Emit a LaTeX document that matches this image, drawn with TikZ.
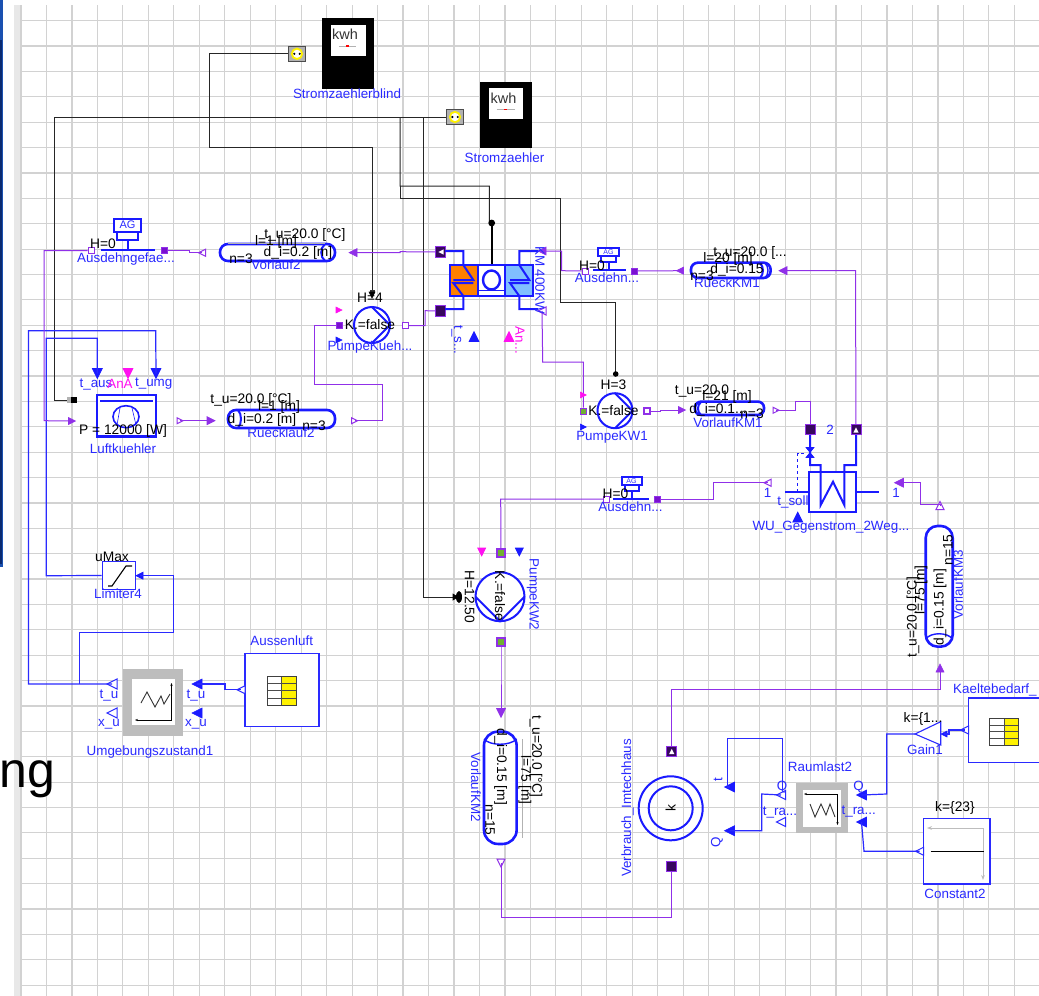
\documentclass[tikz,border=0pt]{standalone}
\usepackage{fontspec}
\setmainfont{Liberation Sans}
\usetikzlibrary{arrows.meta}
\definecolor{gridc}{HTML}{D2D2D2}
\definecolor{bandc}{HTML}{E8E8E8}
\definecolor{edgec}{HTML}{0A2A70}
\definecolor{edgeb}{HTML}{1A50B0}
\definecolor{bluec}{HTML}{1A1AFF}
\definecolor{wireb}{HTML}{2A2AFF}
\definecolor{purp}{HTML}{9030E8}
\definecolor{purpd}{HTML}{7A10D0}
\definecolor{magc}{HTML}{FF10F0}
\definecolor{orangec}{HTML}{FF8000}
\definecolor{lbluec}{HTML}{80BFFF}
\definecolor{grayb}{HTML}{BDBDBD}
\definecolor{greenc}{HTML}{70B030}
\tikzset{
  x=1pt,y=-1pt,
  gridline/.style={draw=gridc,line width=1.2pt},
  wk/.style={draw=black!85,line width=1pt},
  wp/.style={draw=purp,line width=1pt},
  wb/.style={draw=wireb,line width=1.2pt},
  thick blue/.style={draw=bluec,line width=2pt},
  lb/.style={text=wireb,inner sep=0pt,font=\fontsize{13.4}{14}\selectfont},
  bk/.style={text=black,inner sep=0pt,font=\fontsize{13.8}{14}\selectfont},
  mg/.style={text=magc,inner sep=0pt,font=\fontsize{13.4}{14}\selectfont},
  pipe/.style={draw=bluec,line width=2.6pt,fill=white,inner sep=0pt,rounded corners=8pt},
  bx/.style={draw=wireb,line width=1.3pt,fill=white,inner sep=0pt},
  sq/.style={draw=purp,line width=1pt,fill=purpd,inner sep=0pt,minimum size=9pt},
  sqg/.style={draw=purp,line width=1.6pt,fill=greenc,inner sep=0pt,minimum size=8pt},
  sqw/.style={draw=purp,line width=1pt,fill=white,inner sep=0pt,minimum size=6pt},
  sqd/.style={draw=purp,line width=1pt,fill=purpd!45!black,inner sep=0pt,minimum width=10pt,minimum height=10.5pt},
  tp/.style={fill=purp,draw=purp,line width=.6pt},
  th/.style={fill=white,draw=purp,line width=1pt},
  tb/.style={fill=bluec,draw=bluec,line width=.6pt},
  tbh/.style={fill=white,draw=wireb,line width=1pt},
  tm/.style={fill=magc,draw=magc,line width=.6pt},
  tk/.style={fill=black,draw=black,line width=.6pt},
  tw/.style={fill=white,draw=none},
}
\newcommand\trR[4][4]{\coordinate (#2) at (#3);\path[#4,shift={(#3)}] (-#1,-#1) -- (#1,0) -- (-#1,#1) -- cycle;}
\newcommand\trL[4][4]{\coordinate (#2) at (#3);\path[#4,shift={(#3)}] (#1,-#1) -- (-#1,0) -- (#1,#1) -- cycle;}
\newcommand\trU[4][4]{\coordinate (#2) at (#3);\path[#4,shift={(#3)}] (-#1,#1) -- (0,-#1) -- (#1,#1) -- cycle;}
\newcommand\trD[4][4]{\coordinate (#2) at (#3);\path[#4,shift={(#3)}] (-#1,-#1) -- (0,#1) -- (#1,-#1) -- cycle;}
% table icon: left, top, right, bottom, split
\newcommand\tableicon[5]{%
  \fill[white] (#1,#2) rectangle (#5,#4);
  \fill[yellow] (#5,#2) rectangle (#3,#4);
  \foreach \k in {1,2,3}{\draw[black!70,line width=.8pt] (#1,{#2+(#4-#2)*\k/4}) -- (#3,{#2+(#4-#2)*\k/4});}
  \draw[black!70,line width=.9pt] (#5,#2) -- (#5,#4);
  \draw[black!75,line width=1pt] (#1,#2) rectangle (#3,#4);}
% socket: centre
\newcommand\socket[2]{%
  \node[draw=black!70,line width=1pt,fill=black!30,minimum width=17.5pt,minimum height=15.5pt,inner sep=0pt] (#1) at (#2) {};
  \path[fill=white,draw=yellow,line width=1.8pt,shift={(#2)}] (0,0) circle (5.2);
  \fill[black,shift={(#2)}] (-2.7,0) circle (1.2) (2.7,0) circle (1.2);}
% meter: left top right bottom
\newcommand\meter[6]{%
  \fill[black] (#1,#2) rectangle (#3,#4);
  \fill[white] (#5) rectangle (#6);}
\begin{document}
\begin{tikzpicture}
\useasboundingbox (0,0) rectangle (1039,996);
\fill[white] (0,0) rectangle (1039,996);
% window edge
\fill[edgeb] (0,0) rectangle (3,567);
\fill[edgec] (0,40) rectangle (2,564);
\fill[bandc] (14,5) rectangle (20.5,996);
\foreach \i in {0,...,40}{\draw[gridline] ({21+25.47*\i},5) -- ({21+25.47*\i},996);}
\foreach \j in {0,...,38}{\draw[gridline] (21,{20.7+25.38*\j}) -- (1039,{20.7+25.38*\j});}
\node[anchor=base east,inner sep=0pt,text=black,font=\fontsize{50}{50}\selectfont] (ngtext) at (55.5,787) {ng};

% ---- named port nodes and coordinates
\socket{sockA}{297,53.8}
\socket{sockB}{455,117}
\coordinate (pumpFourTop) at (372,291);
\coordinate (coolerBlack) at (72,400);
\coordinate (kmTop) at (491.7,224);
\coordinate (kwOneTop) at (615.7,374);
\coordinate (kwTwoLeft) at (458,597);

% ---- black wires
\draw[wk] (sockA.west) -- (209.5,53.8) -- (209.5,147.5) -- (372,147.5) -- (pumpFourTop);
\draw[wk] (sockB.west) -- (54,117) -- (54,400) -- (coolerBlack);
\draw[wk] (400,117) -- (400,186) -- (489.3,186) -- (489.3,222) -- (kmTop);
\draw[wk] (400,186) -- (400,198) -- (560.7,198) -- (560.7,302.7) -- (615.7,302.7) -- (kwOneTop);
\draw[wk] (423,117) -- (423,597) -- (kwTwoLeft);
\fill[black!80] (pumpFourTop) ++(-2.5,-1) rectangle ++(5,3);
\path[tk,shift={(372,295)}] (-3,-3) -- (0,3) -- (3,-3) -- cycle;
\fill[black] (kmTop) ++(0,-1) circle (3.4);
\draw[black,line width=2pt] (491.7,224) -- (491.7,264);
\fill[black] (kwOneTop) circle (2.8);
\fill[black] (459,597) ellipse [x radius=3,y radius=6];
\path[tk,shift={(455,597)}] (-2,-3) -- (3,0) -- (-2,3) -- cycle;
\fill[black] (74,400) ++(-3,-3) rectangle ++(6,6);
\fill[black!30] (67,397) rectangle (71,403);

% ---- blue wires
\node[bx,minimum width=33.4pt,minimum height=27.6pt] (limiter) at (119,575.5) {};
\node[bx,minimum width=74pt,minimum height=73.4pt] (aussen) at (282,690) {};
\node[bx,minimum width=66.7pt,minimum height=65.7pt] (constant) at (956.7,851.2) {};
\path[bx] (968.3,698) -- (1045,698) -- (1045,762.3) -- (968.3,762.3) -- cycle;
\coordinate (kaelte) at (968.3,730);
\trL{tAussen}{241,689.7}{tbh}
\trL{tKaelte}{964.5,730}{tbh}
\trL{tConst}{919.5,851.3}{tbh}
\trL[5]{uTu}{112,684}{tbh}
\trL[5]{uXu}{112,713}{tbh}
\trL[5]{uTuR}{197,684}{tb}
\trL[5]{uXuR}{197,713}{tb}
\trD[5]{lTAus}{97.3,373.5}{tb}
\trD[5]{lTUmg}{156,373.5}{tb}
\trD[5]{lAn}{128,373.5}{tm}
\trL[3.5]{limR}{139.5,575.7}{tb}
\trL[5]{rQ}{861.5,795}{tb}
\trL[5]{rT}{861.5,822}{tb}
\trL[4.5]{rQL}{781,795}{tbh}
\trL[4.5]{rTL}{781,822}{tbh}
\trL[5]{vT}{729.5,787}{tb}
\trL[5]{vQ}{729.5,830.7}{tb}
\trL[3]{gIn}{944,734}{tb}

\draw[wb] (lTUmg) -- (155.7,330.7) -- (28.4,330.7) -- (28.4,684) -- (uTu);
\draw[wb] (lTAus) -- (97.3,338.3) -- (46.3,338.3) -- (46.3,575.7) -- (limiter.west);
\draw[wb] (limR) -- (173.7,575.7) -- (173.7,632.3) -- (79.3,632.3) -- (79.3,684);
\draw[wb] (uTuR) -- (225,684) -- (225,689.7) -- (tAussen);
\draw[wb] (vT) -- (727.7,787) -- (727.7,738.3) -- (782.3,738.3) -- (782.3,790);
\draw[wb] (vQ) -- (761.7,830.7) -- (761.7,794) -- (rQL);
\draw[wb] (rQ) -- (886.7,794) -- (886.7,734) -- (915,734);
\draw[wb] (gIn) -- (949,734) -- (949,730) -- (tKaelte);
\draw[wb] (rT) -- (864,851.3) -- (tConst);

% ---- purple wires: ports first
\node[sq,minimum size=6pt] (agR) at (164.5,250.5) {};
\node[sqw] (agL) at (91,250.5) {};
\trL[3.5]{pVL}{202,252.8}{th}
\trL[4]{pVR}{353,252.6}{tp}
\node[sqd] (kmA) at (440.5,252) {};
\node[sqd] (kmB) at (440.5,311) {};
\trL{kmC}{542,251}{tp}
\trL{kmD}{542,311}{th}
\node[sqw] (ausA) at (585,271) {};
\node[sq,minimum size=6pt] (ausB) at (634.7,271) {};
\trL[3.5]{pRL}{680,270.7}{tp}
\trL[4]{pRR}{783,270.7}{tp}
\node[sqg,minimum size=6pt] (kwOneL) at (583.3,411.5) {};
\node[sqg,minimum size=6pt,fill=white] (kwOneR) at (647,411) {};
\trR[3.5]{pKWIn}{682,410}{tp}
\trR[3]{pKWOut}{776,410.3}{th}
\node[sqd] (wuA) at (810,429.5) {};
\node[sqd] (wuB) at (856,429.5) {};
\node[sq,minimum size=6pt] (pfL) at (339,325) {};
\node[sqw] (pfR) at (405.5,325.5) {};
\trR[3]{cooR}{180,420.7}{th}
\trR[4]{rueIn}{211,420.7}{tp}
\trR[3]{rueOut}{354.5,420.7}{th}
\trR[3.5]{cooIn}{72,421}{tp}
\node[sqw] (aus2L) at (606.7,499) {};
\node[sq,minimum size=6pt] (aus2R) at (657.5,499) {};
\trL[3.5]{wuL}{767.5,482.7}{th}
\trL[4.5]{wuR}{899,482.7}{tp}
\trU[4]{k3Top}{940,505.5}{th}
\trU[4]{k3Bot}{940,668}{tp}
\node[sqg] (k2Top) at (501,553) {};
\node[sqg] (k2Bot) at (501,641.7) {};
\trD[4.5]{k2In}{501,713}{tp}
\trD[4]{k2Out}{501,863}{th}
\node[sqd,minimum height=10pt,minimum width=10.5pt] (vTop) at (671.7,751) {};
\node[sqd,minimum height=10pt,minimum width=10.5pt] (vBot) at (671.7,866.5) {};
\trU[2.6]{iWu}{856,430}{tw}
\trU[2.6]{iTop}{671.7,751.5}{tw}
\trL[2.6]{iKm}{441,252}{tw}

\draw[wp] (agL) -- (44,250.5) -- (44,420.7) -- (cooIn);
\draw[wp] (agR) -- (189,250.5) -- (189,252.8) -- (pVL);
\draw[wp] (pVR) -- (400,252.6) -- (400,251.7) -- (kmA);
\draw[wp] (kmC) -- (561.7,251) -- (561.7,270.7) -- (ausA);
\draw[wp] (ausB) -- (pRL);
\draw[wp] (pRR) -- (855.5,270.7) -- (wuB);
\draw[wp] (kmD) -- (542.7,362) -- (583.3,362) -- (kwOneL);
\draw[wp] (kwOneR) -- (660,411) -- (660,410) -- (pKWIn);
\draw[wp] (pKWOut) -- (795,410.3) -- (795,401.5) -- (810,401.5) -- (wuA);
\draw[wp] (pfL) -- (314,325) -- (314,384) -- (382.5,384) -- (382.5,420.7) -- (rueOut);
\draw[wp] (pfR) -- (425,325.7) -- (425,310.7) -- (kmB);
\draw[wp] (cooR) -- (rueIn);
\draw[wp] (aus2L) -- (500.7,499) -- (k2Top);
\draw[wp] (aus2R) -- (713,499) -- (713,482.7) -- (wuL);
\draw[wp] (wuR) -- (920,482.7) -- (920,504) -- (940,504) -- (k3Top);
\draw[wp] (k2Bot) -- (501,657) -- (k2In);
\draw[wp] (k2Out) -- (501,917) -- (671.7,917) -- (vBot);
\draw[wp] (vTop) -- (671.7,689) -- (940,689) -- (k3Bot);

% ---- meters
\meter{322.3}{17.7}{374}{89.3}{331,25}{365.7,55.7}
\draw[black!30,line width=.8pt] (339,46) -- (356,46);
\fill[red] (346,45.3) rectangle (349,46.7);
\node[text=black!80,inner sep=0pt,font=\fontsize{14.5}{15}\selectfont] (kwhA) at (345,34.5) {kwh};
\node[lb] (lStromB) at (347,94) {Stromzaehlerblind};
\meter{480}{81.7}{532}{148.3}{488.7,88.3}{523.3,119.3}
\draw[black!30,line width=.8pt] (496.5,109.5) -- (514.5,109.5);
\fill[red] (504,108.8) rectangle (507,110.2);
\node[text=black!80,inner sep=0pt,font=\fontsize{14.5}{15}\selectfont] (kwhB) at (503.5,98) {kwh};
\node[lb] (lStrom) at (504.5,158) {Stromzaehler};

% ---- expansion vessels
\draw[thick blue,fill=white] (114,219) rectangle (141,231.5);
\draw[thick blue,fill=white] (117,231.5) rectangle (138,239.5);
\draw[thick blue] (127.5,239.5) -- (127.5,250) (100.5,250) -- (154.5,250);
\node[lb,font=\fontsize{11}{12}\selectfont] (agIcon) at (127.5,225) {AG};
\node[bk] (hAg) at (103,244) {H=0};
\node[lb] (lAg) at (126,259.5) {Ausdehngefae...};

\draw[thick blue,fill=white] (598,248) rectangle (619,255.5);
\draw[thick blue,fill=white] (601,255.5) rectangle (616,262);
\draw[thick blue] (609,262) -- (609,270) (593,270) -- (626,270);
\node[lb,font=\fontsize{7}{8}\selectfont] (ausIconA) at (608.5,251.7) {AG};
\node[bk] (hAus) at (592,265.5) {H=0};
\node[lb] (lAus) at (607,277.5) {Ausdehn...};

\draw[thick blue,fill=white] (622,477) rectangle (641.5,484.5);
\draw[thick blue,fill=white] (625,484.5) rectangle (638.5,491);
\draw[thick blue] (632,491) -- (632,499) (613,499) -- (649,499);
\node[lb,font=\fontsize{7}{8}\selectfont] (ausIconB) at (631.5,480.7) {AG};
\node[bk] (hAusB) at (615.5,494) {H=0};
\node[lb] (lAusB) at (630.5,506.5) {Ausdehn...};

% ---- pipes
\node[pipe,minimum width=115pt,minimum height=17pt] (vorlaufZwei) at (277.5,252.5) {};
\draw[thick blue] (325,244) .. controls (320,248) and (320,257) .. (325,261);
\draw[gray!60,line width=.7pt] (228,243.5) -- (325,243.5);
\node[bk] (t1) at (305,235) {t\_u=20.0 [°C]};
\node[bk] (t2) at (276,242) {l=1 [m]};
\node[bk] (t3) at (298,253) {d\_i=0.2 [m]};
\node[bk] (t4) at (241,258.5) {n=3};
\node[lb] (t5) at (276,265) {Vorlauf2};

\node[pipe,minimum width=107pt,minimum height=18pt] (ruecklaufZwei) at (281.5,419) {};
\draw[thick blue] (238,410) .. controls (242,414) and (242,424) .. (238,428);
\node[bk] (t6) at (251,400) {t\_u=20.0 [°C]};
\node[bk] (t7) at (279,406.5) {l=1 [m]};
\node[bk] (t8) at (262,419.5) {d\_i=0.2 [m]};
\node[bk] (t9) at (314,426) {n=3};
\node[lb] (t10) at (281,432.5) {Ruecklauf2};

\node[pipe,minimum width=79.7pt,minimum height=15.3pt,rounded corners=7pt] (rueckKM) at (730.8,270.3) {};
\draw[thick blue] (760,263) .. controls (764,267) and (764,274) .. (760,278);
\draw[thick blue,line width=1.4pt] (765,263) .. controls (769,267) and (769,274) .. (765,278);
\node[bk] (t11) at (750,253) {t\_u=20.0 [...};
\node[bk] (t12) at (728,259) {l=20 [m]};
\node[bk] (t13) at (737,270) {d\_i=0.15};
\node[bk] (t14) at (702,276) {n=3};
\node[lb] (t15) at (727,283) {RueckKM1};

\node[pipe,minimum width=69pt,minimum height=13.3pt,rounded corners=6pt] (vorKM) at (729.5,408.3) {};
\draw[thick blue] (701,402) .. controls (697,405) and (697,412) .. (701,415);
\node[bk] (t16) at (702,391) {t\_u=20.0};
\node[bk] (t17) at (727,396.5) {l=21 [m]};
\node[bk] (t18) at (718,410) {d\_i=0.1...};
\node[bk] (t19) at (752,413.5) {n=3};
\node[lb] (t20) at (728,422.5) {VorlaufKM1};

\node[pipe,minimum width=32.7pt,minimum height=112.3pt,rounded corners=14pt] (vorKMZwei) at (500.3,787.8) {};
\draw[thick blue,draw=bluec,line width=1.4pt] (484,739) .. controls (490,746) and (510,746) .. (516.7,739);
\draw[gray!60,line width=.7pt] (522,739) -- (522,838);
\node[bk,rotate=-90] (t21) at (536,756.5) {t\_u=20.0 [°C]};
\node[bk,rotate=-90] (t22) at (525,780) {l=75 [m]};
\node[bk,rotate=-90] (t23) at (500.7,767) {d\_i=0.15 [m]};
\node[bk,rotate=-90] (t24) at (490,820) {n=15};
\node[lb,rotate=-90] (t25) at (476,787) {VorlaufKM2};

\node[pipe,minimum width=27pt,minimum height=120.7pt,rounded corners=12pt] (vorKMDrei) at (939.2,586.3) {};
\draw[thick blue,line width=1.4pt] (925.7,639) .. controls (931,632) and (947,632) .. (952.7,639);
\node[bk,rotate=90] (t26) at (913,617) {t\_u=20.0 [°C]};
\node[bk,rotate=90] (t27) at (921,590) {l=75 [m]};
\node[bk,rotate=90] (t28) at (940,607) {d\_i=0.15 [m]};
\node[bk,rotate=90] (t29) at (948,550) {n=15};
\node[lb,rotate=90] (t30) at (958,585) {VorlaufKM3};

% ---- cooler
\node[draw=bluec,line width=2.4pt,fill=white,minimum width=59.3pt,minimum height=41.7pt,inner sep=0pt] (luft) at (126.4,415.8) {};
\draw[thick blue] (100,400.7) -- (153,400.7);
\draw[thick blue,line width=1.6pt] (126,416.7) ellipse [x radius=13,y radius=11];
\draw[bluec,line width=.6pt] (120,408) -- (117,425) (132,408) -- (136,425);
\node[lb] (l1) at (96,384) {t\_aus};
\node[mg] (l2) at (120,384) {AnA};
\node[lb] (l3) at (153.7,384) {t\_umg};
\node[bk] (l4) at (123,431) {P = 12000 [W]};
\node[lb] (l5) at (123,449) {Luftkuehler};

% ---- pumps
\draw[thick blue,fill=white] (372,325) circle (18);
\draw[thick blue] (372,307) -- (390,325) -- (372,343);
\trR[3]{pfTop}{339,310}{tm}
\trR[3]{pfBot}{339,340}{tb}
\node[bk] (h4) at (370,298) {H=4};
\node[bk] (kf) at (370,324.5) {K.=false};
\node[lb] (lPf) at (370,347.5) {PumpeKueh...};

\draw[thick blue,fill=white] (615,410.7) circle (17.5);
\draw[thick blue] (615,393.2) -- (632.5,410.7) -- (615,428.2);
\trR[3]{kwTop}{583.3,395}{tm}
\trR[3]{kwBot}{583.3,427}{tb}
\node[bk] (h3) at (613.5,385) {H=3};
\node[bk] (kf2) at (613.5,411) {K.=false};
\node[lb] (lKw) at (612,437.5) {PumpeKW1};

\draw[thick blue,fill=white] (500,596.7) circle (24.5);
\draw[thick blue] (475.5,596.7) -- (500,621.2) -- (524.5,596.7);
\trD[4]{k2m}{481.7,552}{tm}
\trD[4]{k2b}{519.3,552}{tb}
\node[bk,rotate=-90] (kf3) at (500,596) {K.=false};
\node[bk,rotate=-90] (h12) at (469.7,597) {H=12.50};
\node[lb,rotate=-90] (lK2) at (533,594.5) {PumpeKW2};

% ---- chiller
\fill[orangec] (450,265) rectangle (478,296);
\fill[white] (478,265) rectangle (505,296);
\fill[lbluec] (505,265) rectangle (532.7,296);
\draw[thick blue] (445,251) -- (463.3,251) -- (463.3,265) -- (473.3,280) -- (453.3,280);
\draw[thick blue] (473.3,283) -- (453.3,283) -- (463.3,296) -- (463.3,309) -- (445,309);
\draw[thick blue] (538,251) -- (519.3,251) -- (519.3,265) -- (529.3,280) -- (510,280);
\draw[thick blue] (529.3,283) -- (510,283) -- (519.3,296) -- (519.3,309) -- (538,309);
\draw[draw=bluec,line width=2pt] (450,265) rectangle (532.7,296);
\draw[thick blue] (478,265) -- (478,296) (505,265) -- (505,296);
\draw[bluec,line width=1pt] (478,290) -- (505,290);
\draw[thick blue,line width=2.4pt] (491.5,280) ellipse [x radius=8.5,y radius=9.5];
\node[lb,rotate=-90] (lKM) at (540,280) {KM 400KW};
\node[lb,rotate=-90] (lTs) at (457,340) {t\_s...};
\node[mg,rotate=-90] (lAnB) at (520,340) {An...};
\trU[5]{kmB1}{474,336.5}{tb}
\trU[5]{kmM1}{509,336.5}{tm}

% ---- heat exchanger
\draw[thick blue] (785,491.7) -- (809,491.7) (856,491.7) -- (879.3,491.7);
\draw[thick blue,fill=white] (809.3,471.7) rectangle (856,511.7);
\draw[thick blue] (810,435) -- (810,465) -- (820.7,465) -- (820.7,505) -- (833,481.7) -- (844.3,505) -- (844.3,465) -- (856,465) -- (856,435);
\draw[bluec,line width=1pt,dashed] (797.7,491.7) -- (797.7,453) -- (806,453);
\path[tb,shift={(810,452.5)}] (-4,-5) -- (4,-5) -- (-4,5) -- (4,5) -- cycle;
\trU[5]{wuSoll}{797.7,517}{tb}
\node[lb] (n1) at (767.5,492.5) {1};
\node[lb] (n2) at (896,492.5) {1};
\node[lb] (n3) at (830,430) {2};
\node[lb] (lSoll) at (793,502) {t\_soll};
\node[lb] (lWu) at (831,527) {WU\_Gegenstrom\_2Weg...};

% ---- limiter
\draw[black,line width=1.1pt] (108,586) -- (112,586) -- (126,566) -- (132,566);
\node[bk] (uMax) at (112,557) {uMax};
\node[lb] (lLim) at (118,594) {Limiter4};

% ---- environment block
\node[draw=none,fill=grayb,minimum width=60pt,minimum height=66.7pt,inner sep=0pt] (umg) at (153.3,702.7) {};
\fill[white] (132,679) rectangle (175,725);
\draw[black,line width=.9pt,-{Stealth[length=3pt]}] (171.5,720) -- (171.5,683);
\draw[black,line width=.9pt,-{Stealth[length=3pt]}] (171.5,720) -- (135,720);
\draw[black!80,line width=.9pt] (141,703) -- (147,692) -- (155,707) -- (161,696) -- (164,704) -- (170,694);
\node[lb] (l6) at (109,695) {t\_u};
\node[lb] (l7) at (109,724) {x\_u};
\node[lb] (l8) at (196,695) {t\_u};
\node[lb] (l9) at (196,724) {x\_u};
\node[lb] (l10) at (150,752) {Umgebungszustand1};
\tableicon{267.7}{676}{296}{705.7}{281.7}
\node[lb] (l11) at (281.7,641) {Aussenluft};

% ---- consumer
\draw[thick blue] (670.7,808.3) circle (32);
\draw[thick blue] (670.7,808.3) circle (22);
\node[bk,rotate=90] (k) at (670.7,808.3) {k};
\node[lb,rotate=90] (lV) at (627.7,808) {Verbrauch\_Imtechhaus};
\node[lb,rotate=90] (lt) at (718,780) {t};
\node[lb,rotate=90] (lq) at (717,842) {Q};

% ---- room load
\node[draw=none,fill=grayb,minimum width=51.7pt,minimum height=50.6pt,inner sep=0pt] (raum) at (821.8,808) {};
\fill[white] (803,790) rectangle (840.7,826.7);
\draw[black,line width=.9pt,-{Stealth[length=3pt]}] (837.5,794) -- (804,794);
\draw[black,line width=.9pt,-{Stealth[length=3pt]}] (837.5,794) -- (837.5,825);
\draw[black!80,line width=.9pt] (810,804) -- (815,817) -- (821,804) -- (826,815) -- (830,804) -- (835,817);
\node[lb] (l12) at (820,767) {Raumlast2};
\node[lb] (l13) at (782,787) {Q};
\node[lb] (l14) at (780,812) {t\_ra...};
\node[lb] (l15) at (858.7,787) {Q};
\node[lb] (l16) at (858.7,811) {t\_ra...};

% ---- gain and tables
\draw[wireb,line width=1.1pt,fill=white] (915,734) -- (940.7,721.7) -- (940.7,745) -- cycle;
\node[bk] (l17) at (923,719) {k=\{1...};
\node[lb] (l18) at (925,750) {Gain1};
\tableicon{989}{718.7}{1018}{745}{1004}
\node[lb,anchor=west] (l19) at (953,690) {Kaeltebedarf\_};

% ---- constant
\draw[grayb,line width=1pt,-{Stealth[length=5pt]}] (983,828) -- (927,828);
\draw[grayb,line width=1pt,-{Stealth[length=5pt]}] (983,828) -- (983,880);
\draw[black,line width=1.3pt] (930.7,851.3) -- (984,851.3);
\node[bk] (l20) at (955,808) {k=\{23\}};
\node[lb] (l21) at (955,894) {Constant2};
\end{tikzpicture}
\end{document}
